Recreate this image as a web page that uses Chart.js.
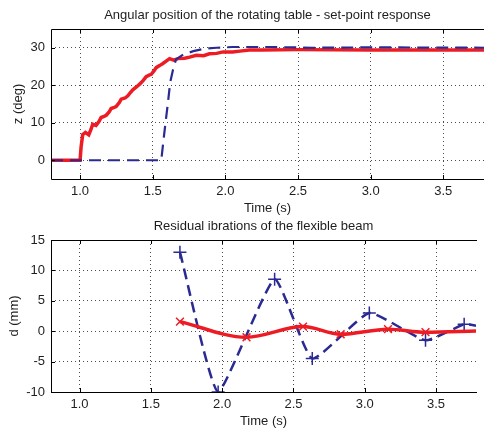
<!DOCTYPE html>
<html lang="en">
<head>
    <meta charset="UTF-8">
    <title>Rotating table - set-point response</title>
    <style>
        html, body {
            margin: 0;
            padding: 0;
            background: #fff;
            overflow: hidden;
        }
        .plot-box {
            position: absolute;
            left: 0;
            width: 484px;
        }
        #topBox { top: 0; height: 216px; }
        #bottomBox { top: 216px; height: 217px; }
    </style>
</head>
<body>
<div id="topBox" class="plot-box"><canvas id="tableChart" width="484" height="216"></canvas></div>
<div id="bottomBox" class="plot-box"><canvas id="beamChart" width="484" height="217"></canvas></div>

<script src="https://cdn.jsdelivr.net/npm/chart.js"></script>
<script>
  // --- data ---
  // angular position of the table (deg)
  const redTableTime = [0.8, 1.0, 1.007, 1.018, 1.037, 1.06, 1.075, 1.087, 1.11, 1.13, 1.145, 1.165, 1.18, 1.2, 1.214, 1.235, 1.248, 1.27, 1.283, 1.31, 1.329, 1.345, 1.363, 1.39, 1.41, 1.435, 1.455, 1.475, 1.49, 1.51, 1.524, 1.55, 1.57, 1.595, 1.616, 1.63, 1.644, 1.674, 1.72, 1.754, 1.8, 1.85, 1.89, 1.94, 1.984, 2.05, 2.1, 2.166, 2.25, 2.5, 3.0, 3.5, 3.78];
  const redTable = [0, 0, 3.5, 6.8, 7.4, 6.8, 8.2, 9.6, 9.3, 10.3, 11.4, 11.7, 12.0, 12.9, 13.8, 14.1, 14.3, 15.4, 16.3, 16.6, 17.2, 18.0, 18.8, 19.6, 20.3, 21.3, 22.3, 22.7, 22.9, 23.9, 24.7, 25.3, 25.8, 26.5, 27.1, 26.9, 26.7, 27.1, 27.2, 27.5, 28.0, 27.9, 28.4, 28.5, 28.9, 28.9, 29.1, 29.4, 29.4, 29.5, 29.4, 29.4, 29.4];
  const blueTableTime = [0.8, 1.559, 1.57, 1.588, 1.605, 1.62, 1.64, 1.66, 1.71, 1.78, 1.85, 1.94, 2.05, 2.3, 2.6, 3.0, 3.78];
  const blueTable = [0, 0, 3.9, 10, 15.4, 20.7, 24.2, 26.9, 28.2, 29.1, 29.7, 30.0, 30.2, 30.2, 30.0, 30.1, 30.0];

  // residual vibration of the beam (mm)
  const redBeamTime = [1.704, 2.171, 2.567, 2.831, 3.163, 3.426, 3.78];
  const redBeam = [1.58, -1.0, 0.76, -0.5, 0.33, -0.16, 0.05];
  const blueBeamTime = [1.704, 1.972, 2.368, 2.632, 3.032, 3.426, 3.697, 3.78];
  const blueBeam = [13.0, -10.0, 8.55, -4.5, 3.0, -1.5, 1.15, 0.9];

  // tick labels
  const timeTicks = [1, 1.5, 2, 2.5, 3, 3.5];
  const tableTicks = [0, 10, 20, 30];
  const beamTicks = [-10, -5, 0, 5, 10, 15];

  const RED = 'rgb(237, 28, 36)';
  const BLUE = 'rgb(42, 42, 146)';
  const TEXT = '#1e1e1e';
  const FONT = "'Liberation Sans', Arial, Helvetica, sans-serif";

  Chart.defaults.font.family = FONT;
  Chart.defaults.font.size = 13;
  Chart.defaults.color = TEXT;

  const toXY = (xs, ys) => xs.map((x, i) => ({ x: x, y: ys[i] }));

  // matlab style box: left/top/bottom border + inward ticks, title centred over the axes
  const boxPlugin = {
    id: 'matlabBox',
    afterDatasetsDraw(chart, args, opts) {
      const { ctx, chartArea: a, scales } = chart;
      ctx.save();
      ctx.strokeStyle = '#000';
      ctx.lineWidth = 1;
      ctx.beginPath();
      ctx.moveTo(a.right + 1, a.top + 0.5);
      ctx.lineTo(a.left + 0.5, a.top + 0.5);
      ctx.lineTo(a.left + 0.5, a.bottom + 0.5);
      ctx.lineTo(a.right + 1, a.bottom + 0.5);
      scales.x.ticks.forEach(t => {
        const px = Math.round(scales.x.getPixelForValue(t.value)) + 0.5;
        ctx.moveTo(px, a.bottom);
        ctx.lineTo(px, a.bottom - 4);
        ctx.moveTo(px, a.top);
        ctx.lineTo(px, a.top + 4);
      });
      scales.y.ticks.forEach(t => {
        const py = Math.round(scales.y.getPixelForValue(t.value)) + 0.5;
        ctx.moveTo(a.left, py);
        ctx.lineTo(a.left + 4, py);
      });
      ctx.stroke();

      // axes title
      ctx.fillStyle = TEXT;
      ctx.font = '13px ' + FONT;
      ctx.textAlign = 'center';
      ctx.textBaseline = 'middle';
      ctx.fillText(opts.text, (a.left + a.right) / 2, opts.y);
      ctx.restore();
    }
  };

  function makeScales(yTicks, yMin, yMax, yLabel, yTitlePad) {
    const grid = {
      color: 'rgba(0,0,0,0.7)',
      lineWidth: 1,
      drawTicks: false
    };
    return {
      x: {
        type: 'linear',
        min: 0.8,
        max: 3.78,
        afterBuildTicks: s => { s.ticks = timeTicks.map(v => ({ value: v })); },
        afterFit: s => { s.height = 37; },
        border: { display: false, dash: [1, 3] },
        grid: grid,
        ticks: { padding: 4.5, color: TEXT, maxRotation: 0 },
        title: { display: true, text: 'Time (s)', color: TEXT, padding: { top: 0, bottom: 0 } }
      },
      y: {
        min: yMin,
        max: yMax,
        afterBuildTicks: s => { s.ticks = yTicks.map(v => ({ value: v })); },
        afterFit: s => { s.width = 51; },
        border: { display: false, dash: [1, 3] },
        grid: grid,
        ticks: { padding: 6, color: TEXT },
        title: { display: true, text: yLabel, color: TEXT, padding: { top: yTitlePad, bottom: 0 } }
      }
    };
  }

  // top: table angle
  new Chart(document.getElementById('tableChart').getContext('2d'), {
    type: 'line',
    data: {
      datasets: [
        {
          label: 'planned',
          data: toXY(blueTableTime, blueTable),
          borderColor: BLUE,
          borderWidth: 2.2,
          borderDash: [12, 7],
          pointRadius: 0,
          tension: 0,
          order: 0
        },
        {
          label: 'measured',
          data: toXY(redTableTime, redTable),
          borderColor: RED,
          borderWidth: 3.5,
          pointRadius: 0,
          tension: 0,
          order: 1
        }
      ]
    },
    options: {
      responsive: false,
      animation: false,
      devicePixelRatio: 1,
      layout: { padding: { left: 0, right: 0, top: 29, bottom: 0 } },
      plugins: {
        legend: { display: false },
        tooltip: { enabled: false },
        title: { display: false },
        matlabBox: { text: 'Angular position of the rotating table - set-point response', y: 15 }
      },
      scales: makeScales(tableTicks, -5, 35, 'z (deg)', 11)
    },
    plugins: [boxPlugin]
  });

  // bottom: beam vibration
  new Chart(document.getElementById('beamChart').getContext('2d'), {
    type: 'line',
    data: {
      datasets: [
        {
          label: 'with compensation',
          data: toXY(redBeamTime, redBeam),
          borderColor: RED,
          borderWidth: 3.5,
          cubicInterpolationMode: 'monotone',
          pointStyle: 'crossRot',
          pointRadius: redBeamTime.map((t, i) => i < redBeamTime.length - 1 ? 5.5 : 0),
          pointBorderWidth: 1.5,
          pointBorderColor: RED,
          order: 0
        },
        {
          label: 'without compensation',
          data: toXY(blueBeamTime, blueBeam),
          borderColor: BLUE,
          borderWidth: 2.5,
          borderDash: [11, 6],
          tension: 0.15,
          pointStyle: 'cross',
          pointRadius: blueBeamTime.map((t, i) => i < blueBeamTime.length - 1 ? 6.5 : 0),
          pointBorderWidth: 1.5,
          pointBorderColor: BLUE,
          order: 1
        }
      ]
    },
    options: {
      responsive: false,
      animation: false,
      devicePixelRatio: 1,
      layout: { padding: { left: 0, right: 0, top: 24, bottom: 4 } },
      plugins: {
        legend: { display: false },
        tooltip: { enabled: false },
        title: { display: false },
        matlabBox: { text: 'Residual ibrations of the flexible beam', y: 10 }
      },
      scales: makeScales(beamTicks, -10, 15, 'd (mm)', 6.5)
    },
    plugins: [boxPlugin]
  });
</script>
</body>
</html>
